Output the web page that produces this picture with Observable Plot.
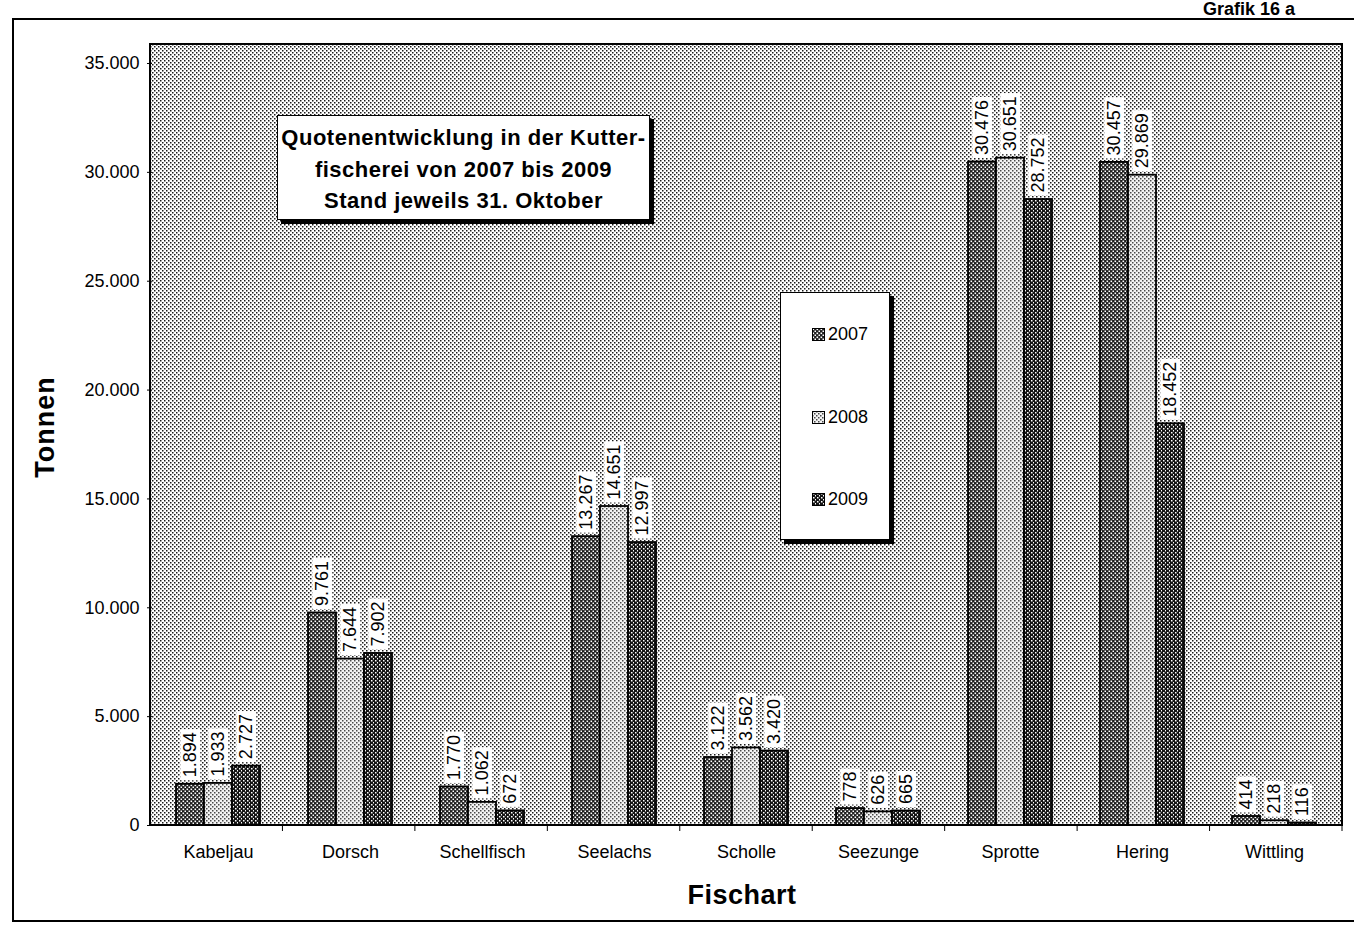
<!DOCTYPE html>
<html><head><meta charset="utf-8">
<script src="https://cdn.jsdelivr.net/npm/d3@7"></script>
<script src="https://cdn.jsdelivr.net/npm/@observablehq/plot@0.6"></script>
<style>
html,body{margin:0;padding:0;background:#fff;overflow:hidden}
#wrap{position:relative;width:1354px;height:926px;font-family:"Liberation Sans",Arial,sans-serif;color:#000}
#wrap > svg{position:absolute;left:0;top:0}
.outer{position:absolute;left:12px;top:18px;width:1380px;height:904px;border:2px solid #000;box-sizing:border-box}
.grafik{position:absolute;right:59px;top:0px;font-weight:bold;font-size:18px;line-height:18px}
.titlebox{position:absolute;left:277px;top:115px;width:373px;height:105px;background:#fff;border:1px solid #000;box-sizing:border-box;box-shadow:4px 4px 0 #000;text-align:center;font-weight:bold;font-size:22px;letter-spacing:0.5px;line-height:31.5px;padding-top:6px}
.legend{position:absolute;left:780px;top:292px;width:110px;height:248px;background:#fff;border:1px solid #000;box-sizing:border-box;box-shadow:4px 4px 0 #000}
.legend .item{position:absolute;left:31px;font-size:18px;line-height:20px;display:flex;align-items:center}
.legend .item svg{margin-right:3px;display:block}
.ylab{position:absolute;left:45px;top:427px;transform:translate(-50%,-50%) rotate(-90deg);font-weight:bold;font-size:27px;letter-spacing:1px;white-space:nowrap}
.xlab{position:absolute;left:742px;top:895px;transform:translate(-50%,-50%);font-weight:bold;font-size:27px;letter-spacing:0.5px;white-space:nowrap}
</style></head>
<body><div id="wrap"></div>
<script>
const fishes = ["Kabeljau","Dorsch","Schellfisch","Seelachs","Scholle","Seezunge","Sprotte","Hering","Wittling"];
const years = ["2007","2008","2009"];
const q2007 = [1894, 9761, 1770, 13267, 3122, 778, 30476, 30457, 414];
const q2008 = [1933, 7644, 1062, 14651, 3562, 626, 30651, 29869, 218];
const q2009 = [2727, 7902, 672, 12997, 3420, 665, 28752, 18452, 116];
const yTicks = [0, 5000, 10000, 15000, 20000, 25000, 30000, 35000];
const titleLines = ["Quotenentwicklung in der Kutter-", "fischerei von 2007 bis 2009", "Stand jeweils 31. Oktober"];
const yLabel = "Tonnen";
const xLabel = "Fischart";
const corner = "Grafik 16 a";

const series = [q2007, q2008, q2009];
const data = fishes.flatMap((f, i) => years.map((yr, j) => ({fish: f, year: yr, value: series[j][i]})));
const de = d3.formatLocale({decimal: ",", thousands: ".", grouping: [3], currency: ["", "€"]});
const fmt = de.format(",d");

const chart = Plot.plot({
  width: 1354, height: 926,
  marginLeft: 150, marginRight: 12, marginTop: 44, marginBottom: 101,
  style: {fontFamily: '"Liberation Sans", Arial, sans-serif', fontSize: "18px", color: "#000", background: "transparent", overflow: "visible"},
  fx: {domain: fishes, padding: 0, axis: "bottom", label: null, tickSize: 0, tickPadding: 20},
  x: {domain: years, paddingInner: 0, paddingOuter: 0.786, axis: null},
  y: {domain: [0, 35872], ticks: yTicks, tickFormat: fmt, tickSize: 5, tickPadding: 8, label: null},
  color: {type: "ordinal", domain: years, range: years.map(y => `url(#pat${y})`)},
  marks: [
    Plot.barY(data, {fx: "fish", x: "year", y: "value", fill: "year", stroke: "#000", strokeWidth: 1.8}),
    Plot.text(data, {fx: "fish", x: "year", y: "value", text: d => fmt(d.value), rotate: -90, textAnchor: "start", dy: -7, fontSize: 18, fill: "#000"})
  ]
});

const wrap = document.getElementById("wrap");
wrap.innerHTML = `<div class="outer"></div><div class="grafik">${corner}</div>`;
wrap.appendChild(chart);

const svg = d3.select(chart);
const defs = svg.insert("defs", ":first-child");
function pat(id, bg, fg, cells) {
  const p = defs.append("pattern").attr("id", id).attr("patternUnits", "userSpaceOnUse").attr("width", 4).attr("height", 4);
  p.append("rect").attr("width", 4).attr("height", 4).attr("fill", bg);
  for (const [x, y, s] of cells) p.append("rect").attr("x", x).attr("y", y).attr("width", s).attr("height", s).attr("fill", fg);
}
pat("patbg", "#fff", "#1a1a1a", [[0, 0, 1.5], [2, 2, 1.5]]);
pat("pat2007", "#1e1e1e", "#fff", [[0.5, 0.5, 1.6], [2.5, 2.5, 1.6]]);
pat("pat2008", "#f4f4f4", "#4a4a4a", [[0, 0, 1.5], [2, 2, 1.5]]);
pat("pat2009", "#151515", "#fff", [[1, 0, 1.5], [3, 2, 1.5]]);

const fxs = chart.scale("fx");
const ys = chart.scale("y");
const x0 = fxs.range[0], x1 = fxs.range[1];
const yTop = ys.range[1], yBot = ys.range[0];

svg.insert("rect", "g").attr("x", x0).attr("y", yTop).attr("width", x1 - x0).attr("height", yBot - yTop).attr("fill", "url(#patbg)");

// white boxes behind value labels
svg.selectAll('g[aria-label="text"] text').each(function() {
  const bb = this.getBBox();
  d3.select(this.parentNode).insert("rect", () => this)
    .attr("x", bb.x - 3).attr("y", bb.y).attr("width", bb.width + 6).attr("height", bb.height)
    .attr("transform", this.getAttribute("transform")).attr("fill", "#fff");
});

svg.append("rect").attr("x", x0).attr("y", yTop).attr("width", x1 - x0).attr("height", yBot - yTop)
  .attr("fill", "none").attr("stroke", "#000").attr("stroke-width", 2);
const step = (x1 - x0) / fishes.length;
for (let k = 1; k <= fishes.length; k++) {
  svg.append("line").attr("x1", x0 + k * step).attr("x2", x0 + k * step).attr("y1", yBot).attr("y2", yBot + 6).attr("stroke", "#000").attr("stroke-width", 1);
}

const tb = document.createElement("div");
tb.className = "titlebox";
tb.innerHTML = titleLines.join("<br>");
wrap.appendChild(tb);

const lg = document.createElement("div");
lg.className = "legend";
const tops = [31, 114, 196];
lg.innerHTML = years.map((y, i) => `<div class="item" style="top:${tops[i]}px"><svg width="13" height="13"><rect x="0.5" y="0.5" width="12" height="12" fill="url(#pat${y})" stroke="#000"/></svg>${y}</div>`).join("");
wrap.appendChild(lg);

const yl = document.createElement("div"); yl.className = "ylab"; yl.textContent = yLabel; wrap.appendChild(yl);
const xl = document.createElement("div"); xl.className = "xlab"; xl.textContent = xLabel; wrap.appendChild(xl);
</script>
</body></html>
